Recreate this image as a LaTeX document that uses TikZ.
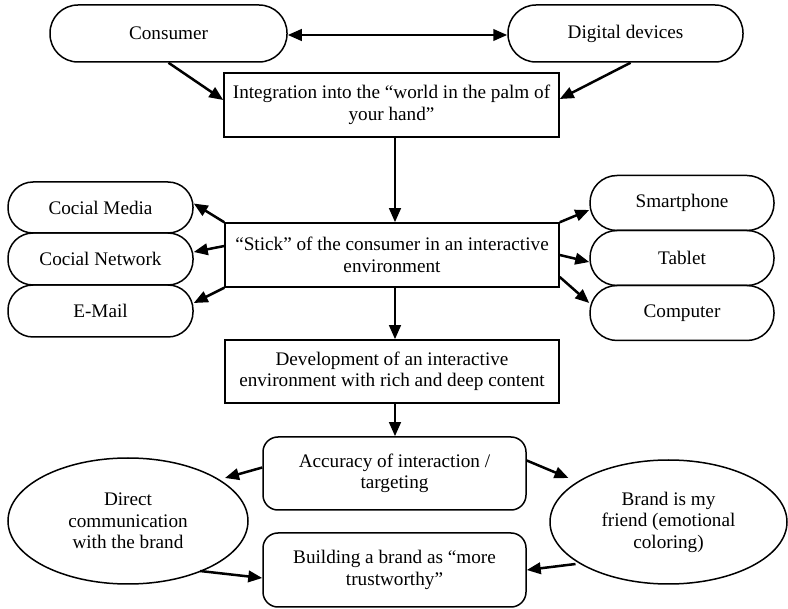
\documentclass[tikz,border=0pt]{standalone}
\usepackage{fontspec}
\setmainfont{Liberation Serif}
\usetikzlibrary{arrows.meta,shapes.geometric,calc}
\begin{document}
\begin{tikzpicture}[x=1pt,y=-1pt,
  font=\fontsize{19.2}{21.5}\selectfont,
  base/.style={draw,line width=1.5pt,inner sep=0pt,align=center},
  pill/.style={base,rectangle,rounded corners=#1},
  pill/.default=25pt,
  box/.style={base,rectangle},
  oval/.style={base,ellipse},
  arr/.style={line width=2.5pt,-{Triangle[length=14pt,width=11.5pt]}},
  darr/.style={line width=2.5pt,{Triangle[length=14pt,width=11.5pt]}-{Triangle[length=14pt,width=11.5pt]}}
]
\useasboundingbox (0,0) rectangle (788,609);

\node[pill=28pt,minimum width=237pt,minimum height=57pt] (cons) at (168.5,33.5) {Consumer};
\node[pill=28pt,minimum width=235pt,minimum height=57pt] (dig) at (625.5,33.5) {Digital devices};
\node[box,minimum width=335pt,minimum height=64pt] (integ) at (391.5,105) {Integration into the “world in the palm of\\your hand”};
\node[box,minimum width=334pt,minimum height=64pt] (stick) at (392,255) {“Stick” of the consumer in an interactive\\environment};
\node[box,minimum width=334pt,minimum height=63pt] (dev) at (392,371.5) {Development of an interactive\\environment with rich and deep content};
\node[pill=15pt,minimum width=263pt,minimum height=73pt] (acc) at (394.5,473.5) {Accuracy of interaction /\\targeting};
\node[pill=15pt,minimum width=263pt,minimum height=74pt] (build) at (394.5,570) {Building a brand as “more\\trustworthy”};
\node[oval,minimum width=240pt,minimum height=126pt] (le) at (128,521) {Direct\\communication\\with the brand};
\node[oval,minimum width=237pt,minimum height=124pt] (re) at (668.5,522) {Brand is my\\friend (emotional\\coloring)};

\node[pill,minimum width=185pt,minimum height=51pt] (cm) at (100.5,207.5) {Cocial Media};
\node[pill,minimum width=185pt,minimum height=52pt] (net) at (100.5,259) {Cocial Network};
\node[pill,minimum width=185pt,minimum height=52pt] (em) at (100.5,311) {E-Mail};

\node[pill=27pt,minimum width=184pt,minimum height=55pt] (sp) at (682,203) {Smartphone};
\node[pill=27pt,minimum width=184pt,minimum height=55pt] (tab) at (682,258) {Tablet};
\node[pill=27pt,minimum width=184pt,minimum height=55pt] (comp) at (682,313) {Computer};

\draw[darr] ([yshift=-1.5pt]cons.east) -- ([yshift=-1.5pt]dig.west);
\draw[arr] (cons.south) -- ([yshift=5pt]integ.west);
\draw[arr] ([xshift=5pt]dig.south) -- ([yshift=6pt]integ.east);
\draw[arr] ([xshift=3.5pt]integ.south) -- ([xshift=3pt]stick.north);
\draw[arr] ([xshift=3pt]stick.south) -- ([xshift=3pt]dev.north);
\draw[arr] ([xshift=3pt]dev.south) -- ([xshift=0.5pt]acc.north);

\draw[arr] (stick.north west) -- ([yshift=4pt]cm.east);
\draw[arr] ([yshift=9pt]stick.west) -- ([yshift=7pt]net.east);
\draw[arr] (stick.south west) -- ([yshift=8pt]em.east);
\draw[arr] (stick.north east) -- ([yshift=-7pt]sp.west);
\draw[arr] (stick.east) -- ([yshift=-4pt]tab.west);
\draw[arr] ([yshift=-22pt]stick.east) -- ([yshift=10pt]comp.west);

\coordinate (leA) at ($(le.center)+(97,-43)$);
\coordinate (leB) at ($(le.center)+(72,50)$);
\coordinate (reA) at ($(re.center)+(-100,-44)$);
\coordinate (reB) at ($(re.center)+(-93,42)$);
\draw[arr] ([yshift=6pt]acc.west) -- (leA);
\draw[arr] ([yshift=13pt]acc.east) -- (reA);
\draw[arr] (leB) -- ([yshift=-8pt]build.west);
\draw[arr] (reB) -- (build.east);
\end{tikzpicture}
\end{document}
